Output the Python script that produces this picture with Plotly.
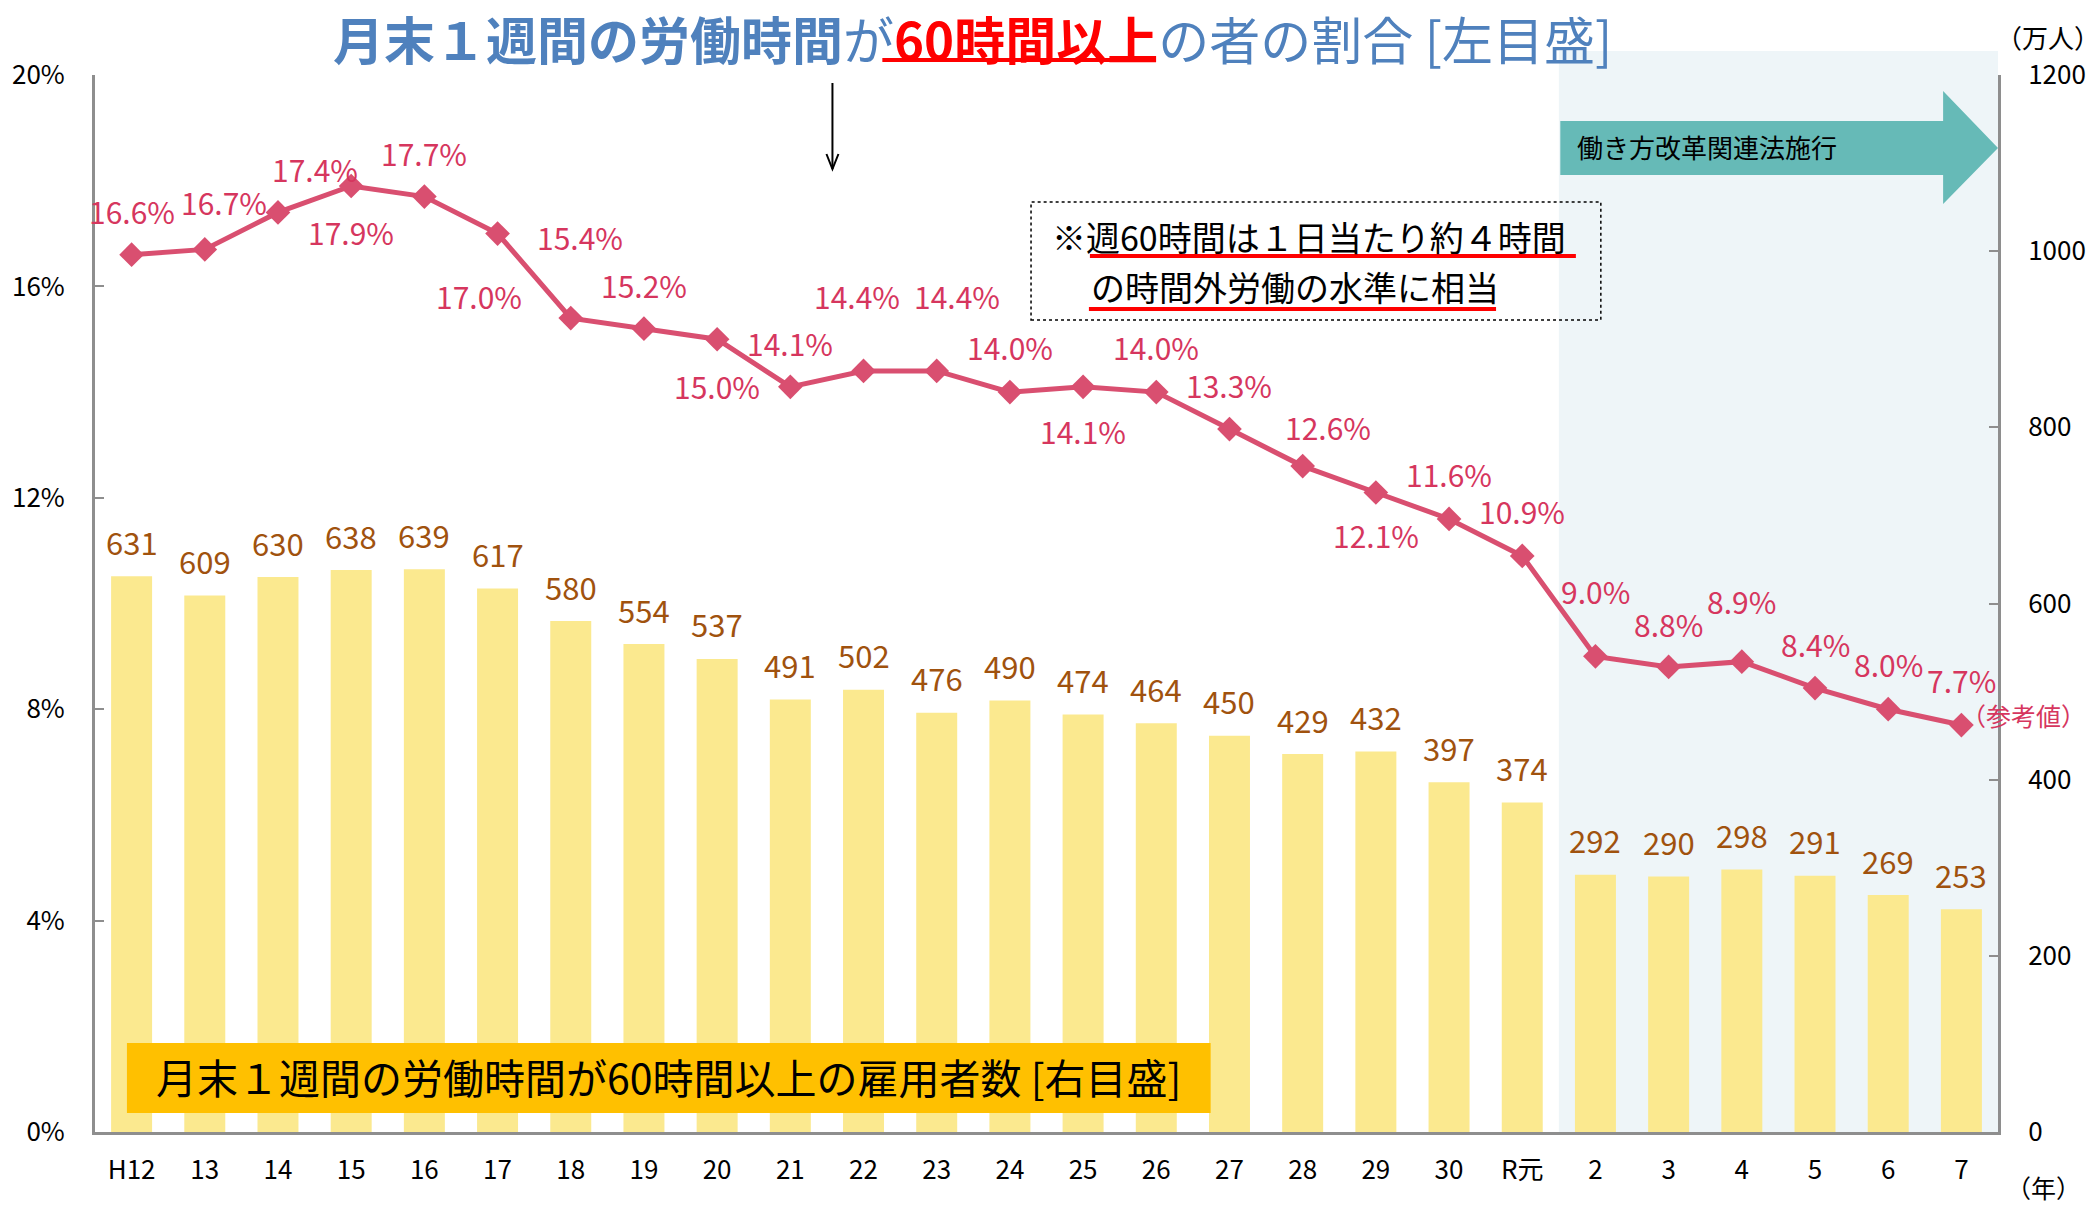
import plotly.graph_objects as go

# ---------------- data ----------------
years = ["H12", "13", "14", "15", "16", "17", "18", "19", "20", "21", "22", "23", "24",
         "25", "26", "27", "28", "29", "30", "R元", "2", "3", "4", "5", "6", "7"]
employees = [631, 609, 630, 638, 639, 617, 580, 554, 537, 491, 502, 476, 490,
             474, 464, 450, 429, 432, 397, 374, 292, 290, 298, 291, 269, 253]
share_pct = [16.6, 16.7, 17.4, 17.9, 17.7, 17.0, 15.4, 15.2, 15.0, 14.1, 14.4, 14.4, 14.0,
             14.1, 14.0, 13.3, 12.6, 12.1, 11.6, 10.9, 9.0, 8.8, 8.9, 8.4, 8.0, 7.7]
left_ticks = [0, 4, 8, 12, 16, 20]
left_tick_text = ["0%", "4%", "8%", "12%", "16%", "20%"]
right_ticks = [0, 200, 400, 600, 800, 1000, 1200]

# label placement (pixel offsets from point: dx, dy(up positive))
pct_offsets = [(0, 44), (19, 47), (37, 43), (0, -46), (0, 44), (-19, -62), (9, 81), (0, 44),
               (0, -47), (0, 44), (-7, 75), (20, 75), (0, 45), (0, -44), (0, 45), (0, 44),
               (25, 39), (0, -42), (0, 45), (0, 45), (0, 65), (0, 43), (0, 61), (0, 44),
               (0, 45), (0, 45)]

# ---------------- geometry helpers ----------------
W, H = 2100, 1208
L, R, T, B = 91, 1998, 75, 1132


def px(x):
    return (x - L) / (R - L)


def py(y):
    return (B - y) / (B - T)


FONT = "Noto Sans CJK JP"
GRAY = "#8E8E8E"
PINK_LINE = "#D94F70"
PINK_TEXT = "#D6365E"
BROWN = "#A0520E"
BLUE = "#4F81BD"

fig = go.Figure()

fig.add_trace(go.Bar(
    x=years, y=employees, yaxis="y", marker=dict(color="#FBE98F", line=dict(width=0)),
    hoverinfo="x+y", showlegend=False,
))
fig.add_trace(go.Scatter(
    x=years, y=share_pct, yaxis="y2", mode="lines+markers",
    line=dict(color=PINK_LINE, width=5),
    marker=dict(symbol="diamond", size=19, color=PINK_LINE),
    showlegend=False,
))

annotations = []
# bar value labels (x given as category index)
for i, v in enumerate(employees):
    annotations.append(dict(x=i, y=v, xref="x", yref="y", text=str(v), showarrow=False,
                            yanchor="middle", yshift=35,
                            font=dict(family=FONT, size=31, color=BROWN)))
# percent labels
for i, (v, (dx, dy)) in enumerate(zip(share_pct, pct_offsets)):
    annotations.append(dict(x=i, y=v, xref="x", yref="y2", text=f"{v:.1f}%", showarrow=False,
                            yanchor="middle", xshift=dx, yshift=dy,
                            font=dict(family=FONT, size=30, color=PINK_TEXT)))

# title
title_html = (f"<b><span style='color:{BLUE}'>月末１週間の労働時間</span></b>"
              f"<span style='color:{BLUE}'>が</span>"
              f"<b><span style='color:#FF0000'>60時間以上</span></b>"
              f"<span style='color:{BLUE}'>の者の割合 [左目盛]</span>")
annotations.append(dict(x=px(970), y=py(38), xref="paper", yref="paper", text=title_html,
                        showarrow=False, xanchor="center", yanchor="middle",
                        font=dict(family=FONT, size=51, color=BLUE)))

# note box text
annotations.append(dict(x=px(1048), y=py(237), xref="paper", yref="paper",
                        text="※週60時間は１日当たり約４時間", showarrow=False,
                        xanchor="left", yanchor="middle",
                        font=dict(family=FONT, size=34, color="black")))
annotations.append(dict(x=px(1087), y=py(286), xref="paper", yref="paper",
                        text="の時間外労働の水準に相当", showarrow=False,
                        xanchor="left", yanchor="middle",
                        font=dict(family=FONT, size=34, color="black")))

# teal arrow text
annotations.append(dict(x=px(1574), y=py(147), xref="paper", yref="paper",
                        text="働き方改革関連法施行", showarrow=False,
                        xanchor="left", yanchor="middle",
                        font=dict(family=FONT, size=26, color="black")))

# legend box text
annotations.append(dict(x=px(666), y=py(1076), xref="paper", yref="paper",
                        text="月末１週間の労働時間が60時間以上の雇用者数 [右目盛]", showarrow=False,
                        xanchor="center", yanchor="middle",
                        font=dict(family=FONT, size=41, color="black")))

# units
annotations.append(dict(x=px(2048), y=py(37), xref="paper", yref="paper", text="（万人）",
                        showarrow=False, xanchor="center", yanchor="middle",
                        font=dict(family=FONT, size=26, color="black")))
annotations.append(dict(x=px(2044), y=py(1187), xref="paper", yref="paper", text="（年）",
                        showarrow=False, xanchor="center", yanchor="middle",
                        font=dict(family=FONT, size=25, color="black")))
annotations.append(dict(x=px(2024), y=py(715), xref="paper", yref="paper", text="（参考値）",
                        showarrow=False, xanchor="center", yanchor="middle",
                        font=dict(family=FONT, size=25, color=PINK_TEXT)))

shapes = []
# shaded period
shapes.append(dict(type="rect", xref="x", yref="paper", x0=19.5, x1=25.5, y0=0, y1=py(51),
                   fillcolor="#EEF5F8", line=dict(width=0), layer="below"))
# teal arrow
bx0, hx = 19.52, 24.75
yt, yb, ht, hb, tip = py(121), py(175), py(91), py(204), py(148)
path = (f"M {bx0},{yt} L {hx},{yt} L {hx},{ht} L 25.5,{tip} L {hx},{hb} "
        f"L {hx},{yb} L {bx0},{yb} Z")
shapes.append(dict(type="path", xref="x", yref="paper", path=path,
                   fillcolor="#66BAB7", line=dict(width=0), layer="above"))
# down arrow
shapes.append(dict(type="line", xref="paper", yref="paper", x0=px(830), x1=px(830),
                   y0=py(83), y1=py(169), line=dict(color="black", width=2)))
shapes.append(dict(type="path", xref="paper", yref="paper",
                   path=f"M {px(824)},{py(154)} L {px(830)},{py(169)} L {px(836)},{py(154)}",
                   line=dict(color="black", width=2)))
# note box (dotted)
shapes.append(dict(type="rect", xref="paper", yref="paper", x0=px(1029), x1=px(1600),
                   y0=py(320), y1=py(202), line=dict(color="black", width=1.5, dash="dot"),
                   fillcolor="rgba(0,0,0,0)", layer="above"))
# red underlines
shapes.append(dict(type="line", xref="paper", yref="paper", x0=px(1088), x1=px(1575),
                   y0=py(256), y1=py(256), line=dict(color="#FF0000", width=4)))
shapes.append(dict(type="line", xref="paper", yref="paper", x0=px(1087), x1=px(1495),
                   y0=py(309), y1=py(309), line=dict(color="#FF0000", width=4)))
# title underline
shapes.append(dict(type="line", xref="paper", yref="paper", x0=px(880), x1=px(1154),
                   y0=py(60), y1=py(60), line=dict(color="#FF0000", width=4)))
# legend box
shapes.append(dict(type="rect", xref="paper", yref="paper", x0=px(123), x1=px(1209),
                   y0=py(1113), y1=py(1043), fillcolor="#FFC000", line=dict(width=0),
                   layer="above"))

fig.update_layout(
    width=W, height=H,
    margin=dict(l=L, r=W - R, t=T, b=H - B, pad=0),
    paper_bgcolor="white", plot_bgcolor="rgba(0,0,0,0)",
    bargap=0.44,
    font=dict(family=FONT, size=26, color="black"),
    xaxis=dict(type="category", categoryorder="array", categoryarray=years,
               range=[-0.5, 25.5], showline=True, linecolor=GRAY, linewidth=3,
               ticks="outside", ticklen=13, tickcolor="rgba(0,0,0,0)",
               tickfont=dict(family=FONT, size=26, color="black"), showgrid=False,
               zeroline=False, fixedrange=True),
    yaxis=dict(side="right", range=[0, 1200], tickvals=right_ticks,
               showline=True, linecolor=GRAY, linewidth=3, ticks="inside", ticklen=9,
               tickwidth=2, tickcolor=GRAY, showgrid=False, zeroline=False,
               ticklabelstandoff=22, tickfont=dict(family=FONT, size=26, color="black")),
    yaxis2=dict(side="left", overlaying="y", range=[0, 20], tickvals=left_ticks,
                ticktext=left_tick_text, showline=True, linecolor=GRAY, linewidth=3,
                ticks="inside", ticklen=9, tickwidth=2, tickcolor=GRAY, showgrid=False,
                zeroline=False, ticklabelstandoff=22,
                tickfont=dict(family=FONT, size=26, color="black")),
    annotations=annotations,
    shapes=shapes,
)

fig.write_html("out.html", config={"displayModeBar": False},
               post_script="document.body.style.margin='0';document.body.style.overflow='hidden';")
